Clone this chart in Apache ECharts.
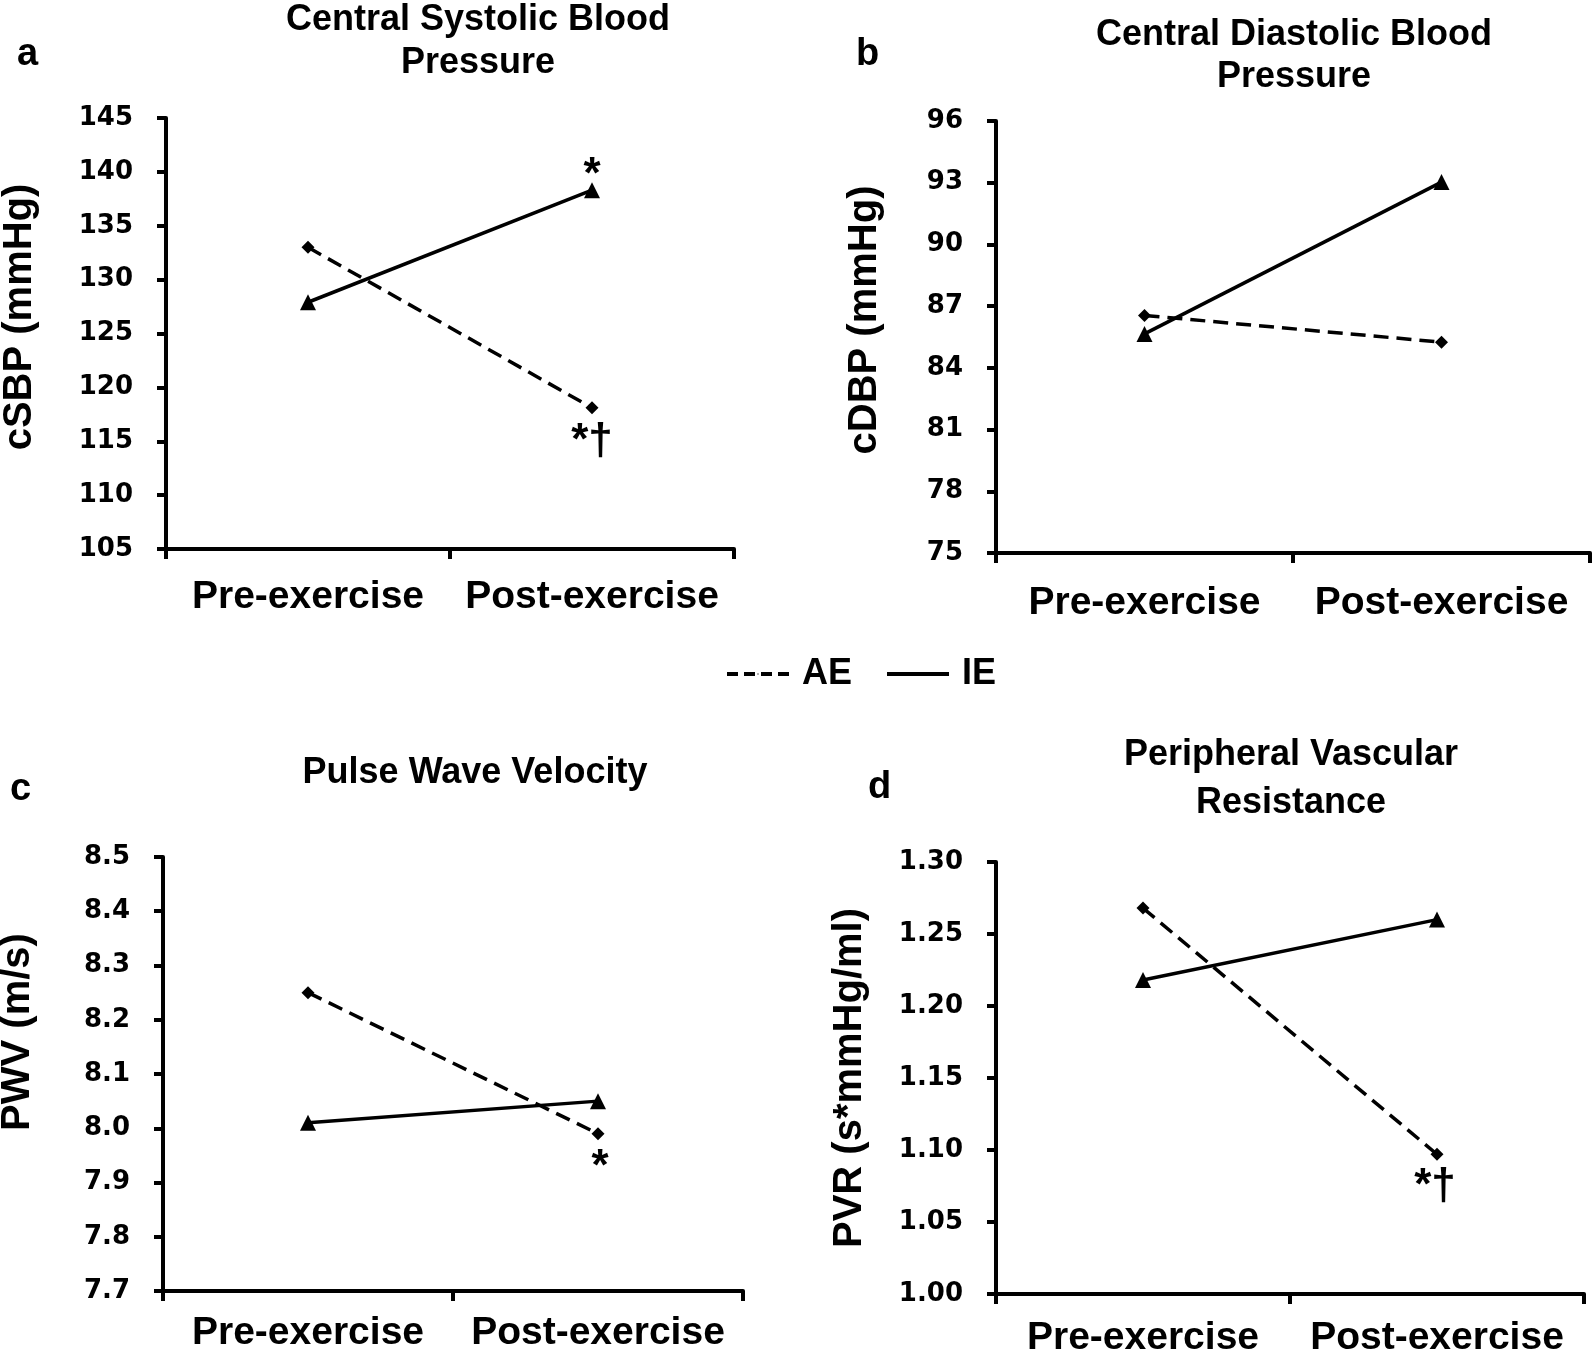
<!DOCTYPE html>
<html>
<head>
<meta charset="utf-8">
<script src="https://cdn.jsdelivr.net/npm/echarts@6/dist/echarts.min.js"></script>
<style>
  html, body { margin: 0; padding: 0; background: #fff; }
  #chart { width: 1594px; height: 1356px; }
</style>
</head>
<body>
<div id="chart"></div>
<script>
// ---- data ----
var categories = ['Pre-exercise', 'Post-exercise'];
var seriesNames = ['AE', 'IE'];

var panelLetters = ['a', 'b', 'c', 'd'];
var panelTitles = ['Central Systolic Blood\nPressure', 'Central Diastolic Blood\nPressure', 'Pulse Wave Velocity', 'Peripheral Vascular\nResistance'];
var yNames = ['cSBP (mmHg)', 'cDBP (mmHg)', 'PWV (m/s)', 'PVR (s*mmHg/ml)'];

var yMin = [105, 75, 7.7, 1.00];
var yMax = [145, 96, 8.5, 1.30];
var yStep = [5, 3, 0.1, 0.05];
var yDecimals = [0, 0, 1, 2];

var aeCSBP = [133.0, 118.1];
var ieCSBP = [127.9, 138.3];
var aeCDBP = [86.55, 85.25];
var ieCDBP = [85.65, 93.03];
var aePWV = [8.25, 7.99];
var iePWV = [8.01, 8.05];
var aePVR = [1.268, 1.097];
var iePVR = [1.218, 1.260];

// significance marks (per point)
var aeMarks = [['', '*\u2020'], ['', ''], ['', '*'], ['', '*\u2020']];
var ieMarks = [['', '*'], ['', ''], ['', ''], ['', '']];

var aeData = [aeCSBP, aeCDBP, aePWV, aePVR];
var ieData = [ieCSBP, ieCDBP, iePWV, iePVR];

// ---- layout ----
var grids = [
  { left: 166, top: 118, width: 568, height: 431 },
  { left: 996, top: 121, width: 594, height: 432 },
  { left: 163, top: 857, width: 580, height: 434 },
  { left: 996, top: 862, width: 588, height: 432 }
];
var titlePos = [
  { x: 473, y: -6, lh: 43 }, { x: 1289, y: 9, lh: 42 }, { x: 470, y: 747, lh: 42 }, { x: 1286, y: 726, lh: 48 }
];
var letterPos = [
  { x: 12, y: 31 }, { x: 851, y: 31 }, { x: 5, y: 766 }, { x: 863, y: 764 }
];
var nameGaps = [126, 111, 125, 126];
var namePadShift = [33, 34, 84, 0];
var catMargin = [29, 31, 23, 25];

var FONT = 'Liberation Sans, Arial, sans-serif';

var chart = echarts.init(document.getElementById('chart'));

var titles = [];
var xAxes = [], yAxes = [], series = [];

function makeData(vals, marks, pos, offset) {
  return vals.map(function (v, i) {
    var m = marks[i];
    if (!m) return v;
    return {
      value: v,
      label: {
        show: true, formatter: m, position: pos, distance: 0,
        offset: offset,
        color: '#000', fontSize: 44, fontWeight: 'bold', fontFamily: FONT
      }
    };
  });
}

var aeOffsets = [[0, 6], [0, 6], [2, 6], [-2, 4]];
var ieOffsets = [[0, 16], [0, 16], [0, 16], [0, 16]];

for (var p = 0; p < 4; p++) {
  titles.push({
    text: panelTitles[p], left: titlePos[p].x, top: titlePos[p].y, textAlign: 'center',
    textStyle: { fontSize: 36, fontWeight: 'bold', fontFamily: FONT, color: '#000', lineHeight: titlePos[p].lh }
  });
  titles.push({
    text: panelLetters[p], left: letterPos[p].x, top: letterPos[p].y,
    textStyle: { fontSize: 38, fontWeight: 'bold', fontFamily: FONT, color: '#000' }
  });
  (function (p) {
    xAxes.push({
      type: 'category', gridIndex: p, data: categories, boundaryGap: true,
      axisLine: { lineStyle: { color: '#000', width: 4 } },
      axisTick: { show: true, length: 10, lineStyle: { color: '#000', width: 4 } },
      axisLabel: { interval: 0, color: '#000', fontSize: 39, fontWeight: 'bold', fontFamily: FONT, margin: catMargin[p] },
      splitLine: { show: false }
    });
    yAxes.push({
      type: 'value', gridIndex: p, min: yMin[p], max: yMax[p], interval: yStep[p],
      name: yNames[p], nameLocation: 'middle', nameGap: nameGaps[p], nameRotate: 90,
      nameTextStyle: { color: '#000', fontSize: 40, fontWeight: 'bold', fontFamily: FONT, padding: [0, 0, 0, namePadShift[p]] },
      axisLine: { show: true, lineStyle: { color: '#000', width: 4 } },
      axisTick: { show: true, length: 9, lineStyle: { color: '#000', width: 4 } },
      axisLabel: {
        color: '#000', fontSize: 26, fontWeight: 'bold', fontFamily: 'DejaVu Sans, sans-serif', margin: 33,
        formatter: function (v) { return Number(v).toFixed(yDecimals[p]); }
      },
      splitLine: { show: false }
    });
  })(p);
  series.push({
    name: seriesNames[0], type: 'line', xAxisIndex: p, yAxisIndex: p,
    data: makeData(aeData[p], aeMarks[p], 'bottom', aeOffsets[p]),
    symbol: 'diamond', symbolSize: 13, itemStyle: { color: '#000' },
    lineStyle: { color: '#000', width: 3.5, type: [15, 8] }, z: 3, animation: false
  });
  series.push({
    name: seriesNames[1], type: 'line', xAxisIndex: p, yAxisIndex: p,
    data: makeData(ieData[p], ieMarks[p], 'top', ieOffsets[p]),
    symbol: 'triangle', symbolSize: 16, itemStyle: { color: '#000' },
    lineStyle: { color: '#000', width: 3.5, type: 'solid' }, z: 4, animation: false
  });
}

chart.setOption({
  backgroundColor: '#fff',
  animation: false,
  title: titles,
  legend: {
    data: [
      { name: seriesNames[0], lineStyle: { type: [11, 6], width: 4 } },
      { name: seriesNames[1], lineStyle: { type: 'solid', width: 4 } }
    ],
    left: 725, top: 656, itemWidth: 62, itemHeight: 2, itemGap: 33,
    padding: 0,
    textStyle: { color: '#000', fontSize: 36, fontWeight: 'bold', fontFamily: FONT, padding: [0, 0, 0, 8] }
  },
  grid: grids.map(function (g) { return Object.assign({ containLabel: false, outerBoundsMode: 'none' }, g); }),
  xAxis: xAxes,
  yAxis: yAxes,
  series: series
});
</script>
</body>
</html>
